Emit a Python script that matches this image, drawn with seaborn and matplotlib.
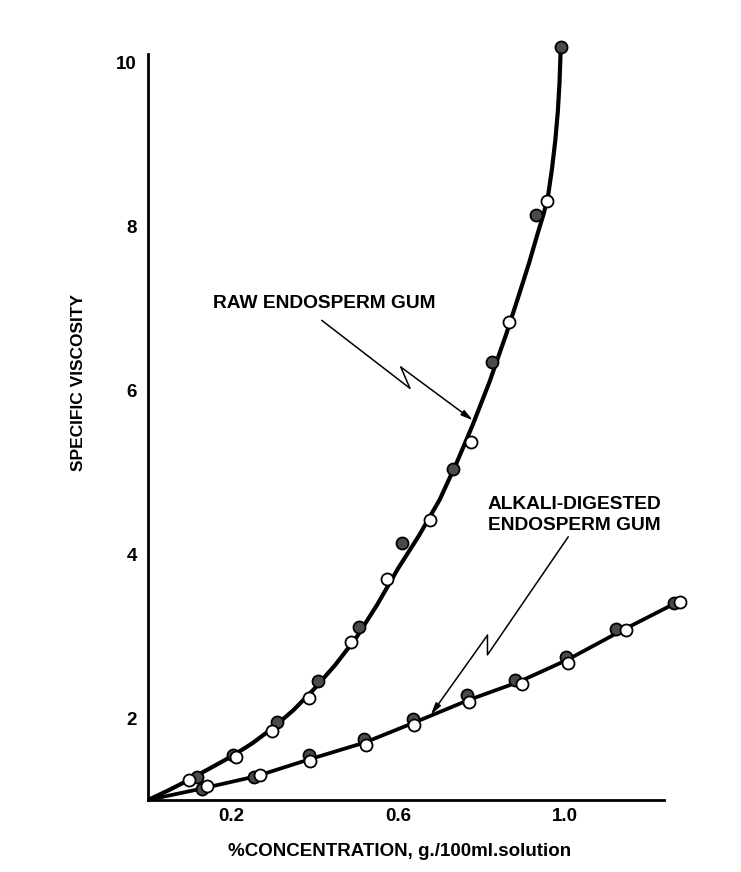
import matplotlib
matplotlib.use("Agg")
import matplotlib.pyplot as plt
import seaborn as sns
import pandas as pd

# ---- data ----
raw_filled_x = [0.117, 0.205, 0.309, 0.407, 0.507, 0.609, 0.733, 0.825, 0.932, 0.991]
raw_filled_y = [1.28, 1.55, 1.955, 2.45, 3.11, 4.14, 5.04, 6.34, 8.14, 10.18]
raw_open_x = [0.099, 0.211, 0.297, 0.387, 0.487, 0.575, 0.677, 0.776, 0.867, 0.959]
raw_open_y = [1.25, 1.52, 1.84, 2.25, 2.93, 3.70, 4.41, 5.36, 6.83, 8.31]

alk_filled_x = [0.129, 0.255, 0.387, 0.519, 0.636, 0.765, 0.881, 1.004, 1.124, 1.263]
alk_filled_y = [1.14, 1.28, 1.55, 1.74, 1.99, 2.28, 2.46, 2.74, 3.09, 3.40]
alk_open_x = [0.141, 0.269, 0.389, 0.523, 0.639, 0.771, 0.899, 1.009, 1.148, 1.277]
alk_open_y = [1.17, 1.31, 1.47, 1.67, 1.91, 2.19, 2.41, 2.67, 3.07, 3.41]

# hand-drawn fitted curves
raw_curve_x = [0, 0.05, 0.1, 0.15, 0.2, 0.25, 0.3, 0.35, 0.4, 0.45, 0.5, 0.55, 0.6, 0.65,
               0.7, 0.74, 0.78, 0.82, 0.86, 0.89, 0.915, 0.935, 0.95, 0.96, 0.97,
               0.978, 0.984, 0.988, 0.991]
raw_curve_y = [1.0, 1.12, 1.25, 1.39, 1.53, 1.69, 1.88, 2.10, 2.36, 2.65, 2.98, 3.38, 3.82, 4.22,
               4.66, 5.10, 5.58, 6.10, 6.68, 7.15, 7.55, 7.90, 8.15, 8.35, 8.70,
               9.05, 9.40, 9.75, 10.18]
alk_curve_x = [0, 0.13, 0.26, 0.39, 0.52, 0.637, 0.77, 0.89, 1.007, 1.135, 1.27]
alk_curve_y = [1.0, 1.14, 1.29, 1.50, 1.70, 1.94, 2.22, 2.44, 2.71, 3.06, 3.41]

x_ticks = [0.2, 0.4, 0.6, 0.8, 1.0, 1.2]
x_tick_labels = ["0.2", "", "0.6", "", "1.0", ""]
y_ticks = [2, 3, 4, 5, 6, 7, 8, 9, 10]
y_tick_labels = ["2", "", "4", "", "6", "", "8", "", "10"]

label_raw = "RAW ENDOSPERM GUM"
label_alk_1 = "ALKALI-DIGESTED"
label_alk_2 = "ENDOSPERM GUM"
x_label = "%CONCENTRATION, g./100ml.solution"
y_label = "SPECIFIC VISCOSITY"

# ---- style ----
sns.set_style("white")
plt.rcParams["font.family"] = ["Liberation Sans", "DejaVu Sans"]
plt.rcParams["text.color"] = "black"
plt.rcParams["axes.labelcolor"] = "black"

fig = plt.figure(figsize=(7.41, 8.72), dpi=100)
ax = fig.add_axes([148 / 741, 72 / 872, 549.8 / 741, 762.6 / 872])

raw_curve = pd.DataFrame({"x": raw_curve_x, "y": raw_curve_y})
alk_curve = pd.DataFrame({"x": alk_curve_x, "y": alk_curve_y})
sns.lineplot(data=raw_curve, x="x", y="y", sort=False, color="black", lw=3.0, ax=ax, zorder=2)
sns.lineplot(data=alk_curve, x="x", y="y", sort=False, color="black", lw=2.7, ax=ax, zorder=2)

filled = pd.DataFrame({"x": raw_filled_x + alk_filled_x, "y": raw_filled_y + alk_filled_y})
opened = pd.DataFrame({"x": raw_open_x + alk_open_x, "y": raw_open_y + alk_open_y})
sns.scatterplot(data=filled, x="x", y="y", s=75, color="#4a4a4a", edgecolor="black",
                linewidth=1.3, ax=ax, zorder=3)
sns.scatterplot(data=opened, x="x", y="y", s=75, color="white", edgecolor="black",
                linewidth=1.3, ax=ax, zorder=4)

ax.set_xlim(0, 1.32)
ax.set_ylim(1, 10.3)

for side in ["top", "right"]:
    ax.spines[side].set_visible(False)
for side in ["left", "bottom"]:
    ax.spines[side].set_linewidth(2.0)
    ax.spines[side].set_color("black")
ax.spines["bottom"].set_bounds(0, 1.24)
ax.spines["left"].set_bounds(1, 10.1)

ax.set_xticks(x_ticks)
ax.set_xticklabels(x_tick_labels)
ax.set_yticks(y_ticks)
ax.set_yticklabels(y_tick_labels)
ax.tick_params(axis="both", direction="in", length=6, width=1.5, colors="black",
               labelsize=13.5, labelcolor="black")
ax.tick_params(axis="x", pad=6)
ax.tick_params(axis="y", pad=8)
for t in ax.get_xticklabels() + ax.get_yticklabels():
    t.set_fontweight("bold")

ax.set_xlabel(x_label, fontsize=13.5, fontweight="bold", color="black")
ax.set_ylabel(y_label, fontsize=12.5, fontweight="bold", color="black")
ax.xaxis.set_label_coords((400 - 148) / 549.8, -(843 - 800) / 762.6)
ax.yaxis.set_label_coords((86 - 148) / 549.8, (800 - 382) / 762.6)

# annotations with zig-zag arrows
ax.text(0.156, 7.06, label_raw, ha="left", va="center", fontsize=13.8, fontweight="bold")
ax.text(0.816, 4.60, label_alk_1, ha="left", va="center", fontsize=13.8, fontweight="bold")
ax.text(0.816, 4.35, label_alk_2, ha="left", va="center", fontsize=13.8, fontweight="bold")

ax.plot([0.417, 0.629, 0.607], [6.85, 6.02, 6.28], color="black", lw=1.1, zorder=2)
ax.annotate("", xy=(0.780, 5.63), xytext=(0.607, 6.28),
            arrowprops=dict(arrowstyle="-|>,head_length=0.7,head_width=0.18",
                            color="black", lw=1.1, shrinkA=0, shrinkB=0))
ax.plot([1.009, 0.815, 0.815], [4.21, 2.77, 3.01], color="black", lw=1.1, zorder=2)
ax.annotate("", xy=(0.679, 2.04), xytext=(0.815, 3.01),
            arrowprops=dict(arrowstyle="-|>,head_length=0.7,head_width=0.18",
                            color="black", lw=1.1, shrinkA=0, shrinkB=0))

fig.savefig("out.png", dpi=100)
